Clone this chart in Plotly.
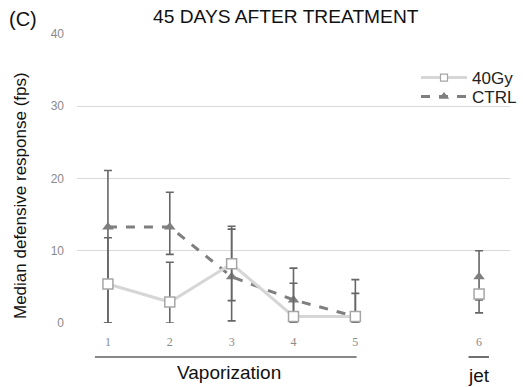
import plotly.graph_objects as go

# Time points; the blank slot separates the vaporization trials from the jet trial
slots = [0, 1, 2, 3, 4, 5, 6]
tick_pos = [0, 1, 2, 3, 4, 6]
tick_labels = ["1", "2", "3", "4", "5", "6"]

# Median defensive response (fps)
gy40 = [5.4, 2.9, 8.2, 0.9, 0.9, None, 4.0]
gy40_plus = [6.4, 5.5, 4.8, 4.6, 3.2, None, 0.5]
gy40_minus = [5.4, 2.9, 5.1, 0.9, 0.9, None, 0.8]

ctrl = [13.3, 13.3, 6.4, 3.2, 0.9, None, 6.4]
ctrl_plus = [7.8, 4.8, 7.0, 4.4, 5.1, None, 3.6]
ctrl_minus = [13.3, 3.8, 6.1, 3.2, 0.9, None, 5.0]

err_col = "#666666"
ctrl_col = "#7f7f7f"
gy_line = "#d6d6d6"
gy_edge = "#a6a6a6"

W, H = 523, 387
pl, pr, pt, pb = 77, 13, 34, 64
pw, ph = W - pl - pr, H - pt - pb


def px(xp):
    return (xp - pl) / pw


def py(yp):
    return (H - pb - yp) / ph


fig = go.Figure()

fig.add_trace(go.Scatter(
    x=slots, y=ctrl, name="CTRL", mode="lines+markers", showlegend=False,
    line=dict(color=ctrl_col, width=3, dash="dash"),
    marker=dict(symbol="triangle-up", size=10, color=ctrl_col),
    error_y=dict(type="data", symmetric=False, array=ctrl_plus,
                 arrayminus=ctrl_minus, color=err_col, thickness=1.6, width=4),
    connectgaps=False,
))
fig.add_trace(go.Scatter(
    x=slots, y=gy40, name="40Gy", mode="lines+markers", showlegend=False,
    line=dict(color=gy_line, width=3),
    marker=dict(symbol="square", size=10, color="white",
                line=dict(color=gy_edge, width=1.5)),
    error_y=dict(type="data", symmetric=False, array=gy40_plus,
                 arrayminus=gy40_minus, color=err_col, thickness=1.6, width=4),
    connectgaps=False,
))

# Legend entries with smaller glyphs, one legend box each
fig.add_trace(go.Scatter(
    x=[None], y=[None], name="40Gy", mode="lines+markers", legend="legend",
    line=dict(color=gy_line, width=3),
    marker=dict(symbol="square", size=7, color="white",
                line=dict(color=gy_edge, width=1.2)),
))
fig.add_trace(go.Scatter(
    x=[None], y=[None], name="CTRL", mode="lines+markers", legend="legend2",
    line=dict(color=ctrl_col, width=3, dash="dash"),
    marker=dict(symbol="triangle-up", size=9, color=ctrl_col),
))

legend_style = dict(xanchor="left", yanchor="top", bgcolor="rgba(0,0,0,0)",
                    font=dict(size=17, color="#222222"), itemwidth=46)

fig.update_layout(
    width=W, height=H,
    margin=dict(l=pl, r=pr, t=pt, b=pb, autoexpand=False),
    paper_bgcolor="white", plot_bgcolor="white",
    font=dict(family="Liberation Sans, Arial, sans-serif", color="#222222"),
    showlegend=True,
    legend=dict(x=px(416), y=py(60), **legend_style),
    legend2=dict(x=px(416), y=py(79), **legend_style),
    xaxis=dict(range=[-0.5, 6.5], tickvals=tick_pos, ticktext=tick_labels,
               showgrid=False, zeroline=False, showline=False, ticks="",
               ticklabelstandoff=10,
               tickfont=dict(family="Liberation Serif, serif", size=12, color="#8a8a8a")),
    yaxis=dict(range=[0, 40], dtick=10, showgrid=True, gridcolor="#d9d9d9",
               gridwidth=1, zeroline=False, showline=False, ticks="",
               ticklabelstandoff=12,
               tickfont=dict(size=12, color="#8a8a8a")),
)

centered = dict(showarrow=False, xanchor="center", yanchor="middle")

# Axis title
fig.add_annotation(x=px(21), y=py(196), xref="paper", yref="paper",
                   text="Median defensive response (fps)", textangle=-90,
                   font=dict(size=17, color="#111111"), **centered)

# Group brackets under the time-point labels
fig.add_shape(type="line", xref="x", yref="paper", x0=-0.21, x1=4.02,
              y0=py(357), y1=py(357), line=dict(color="#111111", width=1.2))
fig.add_shape(type="line", xref="x", yref="paper", x0=5.83, x1=6.16,
              y0=py(357), y1=py(357), line=dict(color="#111111", width=1.2))
fig.add_annotation(x=px(228.5), y=py(372), xref="paper", yref="paper",
                   text="Vaporization",
                   font=dict(size=19, color="#111111"), **centered)
fig.add_annotation(x=6, y=py(375), xref="x", yref="paper", text="jet",
                   font=dict(size=19, color="#111111"), **centered)

# Title and panel letter
fig.add_annotation(x=px(286), y=py(17), xref="paper", yref="paper",
                   text="45 DAYS AFTER TREATMENT",
                   font=dict(size=19.2, color="#111111"), **centered)
fig.add_annotation(x=px(23), y=py(19), xref="paper", yref="paper", text="(C)",
                   font=dict(size=20, color="#111111"), **centered)

fig.write_html("out.html")
